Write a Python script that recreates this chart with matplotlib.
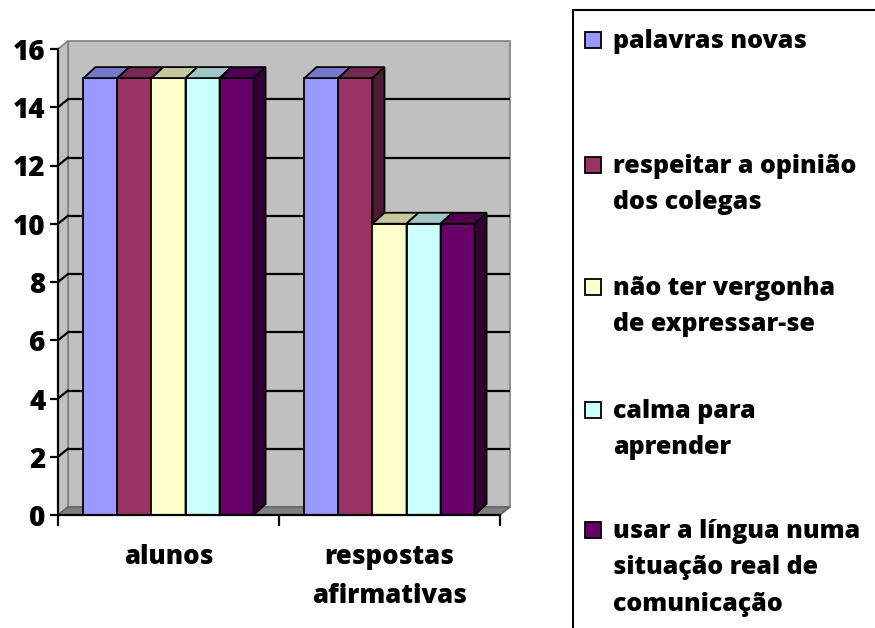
import matplotlib
matplotlib.use('Agg')
import matplotlib.pyplot as plt
from matplotlib.patches import Polygon, Rectangle

plt.rcParams['font.family'] = ['Open Sans', 'DejaVu Sans']

categories = ['alunos', 'respostas\nafirmativas']
series_labels = ['palavras novas',
                 'respeitar a opinião\ndos colegas',
                 'não ter vergonha\nde expressar-se',
                 'calma para\naprender',
                 'usar a língua numa\nsituação real de\ncomunicação']
palavras_novas = [15, 15]
respeitar_opiniao = [15, 15]
nao_ter_vergonha = [15, 10]
calma_aprender = [15, 10]
usar_lingua = [15, 10]
series_values = [palavras_novas, respeitar_opiniao, nao_ter_vergonha,
                 calma_aprender, usar_lingua]
y_ticks = list(range(0, 17, 2))

colors = ['#9999FF', '#993366', '#FFFFCC', '#CCFFFF', '#660066']

W, H = 875, 628
fig = plt.figure(figsize=(W / 100, H / 100), dpi=100)

# front plane of the plot in pixels
x_left, x_right, y_zero, y_top = 58, 500, 515, 49
ax = fig.add_axes([x_left / W, (H - y_zero) / H,
                   (x_right - x_left) / W, (y_zero - y_top) / H])
ax.set_xlim(0, 2)
ax.set_ylim(0, 16)
ax.set_facecolor('none')

# pixel -> data conversion for the fake 3d depth
px_x = 2 / (x_right - x_left)
px_y = 16 / (y_zero - y_top)
wx, wy = 10 * px_x, 8 * px_y    # wall depth
dx, dy = 12 * px_x, 11 * px_y   # bar depth


def shade(c, f):
    r, g, b = matplotlib.colors.to_rgb(c)
    return (r * f, g * f, b * f)


# walls and floor
ax.add_patch(Polygon([(wx, wy), (2 + wx, wy), (2 + wx, 16 + wy), (wx, 16 + wy)],
                     closed=True, facecolor='#C0C0C0', edgecolor='#808080',
                     lw=1.2, zorder=0, clip_on=False))
ax.add_patch(Polygon([(0, 0), (wx, wy), (wx, 16 + wy), (0, 16)],
                     closed=True, facecolor='#C0C0C0', edgecolor='#808080',
                     lw=1.2, zorder=0, clip_on=False))
ax.add_patch(Polygon([(0, 0), (2, 0), (2 + wx, wy), (wx, wy)],
                     closed=True, facecolor='#808080', edgecolor='#606060',
                     lw=1, zorder=0.5, clip_on=False))

for v in y_ticks[1:-1]:
    ax.plot([wx, 2 + wx], [v + wy, v + wy], color='black', lw=1.6, zorder=1,
            clip_on=False, solid_capstyle='butt')
    ax.plot([0, wx], [v, v + wy], color='black', lw=1.6, zorder=1, clip_on=False)

# bars
bar_w = 0.154
centers = [0.5, 1.5]
z = 3
for i, (vals, col) in enumerate(zip(series_values, colors)):
    xs = [c - 2.5 * bar_w + i * bar_w for c in centers]
    ax.bar(xs, vals, width=bar_w, align='edge', color=col, edgecolor='black',
           lw=1.3, zorder=z)
    for x0, v in zip(xs, vals):
        ax.add_patch(Polygon([(x0, v), (x0 + bar_w, v), (x0 + bar_w + dx, v + dy),
                              (x0 + dx, v + dy)], closed=True,
                             facecolor=shade(col, 0.78), edgecolor='black',
                             lw=1.3, zorder=z, clip_on=False))
        ax.add_patch(Polygon([(x0 + bar_w, 0), (x0 + bar_w + dx, dy),
                              (x0 + bar_w + dx, v + dy), (x0 + bar_w, v)],
                             closed=True, facecolor=shade(col, 0.5),
                             edgecolor='black', lw=1.3, zorder=z, clip_on=False))
    z += 1

# axes styling
for s in ['top', 'right']:
    ax.spines[s].set_visible(False)
for s in ['left', 'bottom']:
    ax.spines[s].set_linewidth(1.6)
    ax.spines[s].set_zorder(10)

ax.set_yticks(y_ticks)
ax.set_yticklabels([str(t) for t in y_ticks], fontsize=20, fontweight=800)
ax.tick_params(axis='y', direction='out', length=6, width=1.6, pad=3)

ax.set_xticks(centers)
ax.set_xticklabels(categories, fontsize=18.5, fontweight=800, linespacing=1.65)
ax.set_xticks([0, 1, 2], minor=True)
ax.tick_params(axis='x', which='major', length=0, pad=21)
ax.tick_params(axis='x', which='minor', direction='out', length=8, width=1.6)

# legend drawn by hand (box runs off the right and bottom edges)
fig.add_artist(Rectangle((573 / W, -0.1), 1.0, 1 - 10 / H + 0.1,
                         transform=fig.transFigure, facecolor='white',
                         edgecolor='black', lw=1.5))
first_line_y = [40, 165, 287, 410, 530]
for lab, col, yc in zip(series_labels, colors, first_line_y):
    fig.add_artist(Rectangle((585 / W, 1 - (yc + 8) / H), 16 / W, 16 / H,
                             transform=fig.transFigure, facecolor=col,
                             edgecolor='black', lw=1.3))
    fig.text(613 / W, 1 - (yc - 11) / H, lab, fontsize=18, fontweight=800,
             va='top', ha='left', linespacing=1.6)

fig.savefig('out.png', dpi=100)
